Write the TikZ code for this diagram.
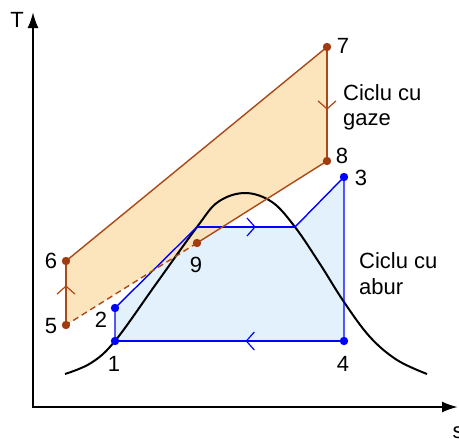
\documentclass[tikz,border=0pt]{standalone}
\usepackage{fontspec}
\setmainfont{Liberation Sans}
\usetikzlibrary{arrows.meta,decorations.markings}
\definecolor{brn}{RGB}{170,72,22}
\definecolor{brndot}{RGB}{160,60,15}
\definecolor{orfill}{RGB}{251,224,176}
\definecolor{blfill}{RGB}{226,241,251}
\tikzset{
  lbl/.style={font=\fontsize{22}{26}\selectfont, inner sep=0pt},
  gasline/.style={draw=brn, line width=1.4pt},
  stline/.style={draw=blue, line width=1.4pt},
  axis/.style={line width=2.2pt, -{Latex[length=16pt,width=11pt]}},
  midarrow/.style={postaction={decorate},decoration={markings,
     mark=at position #1 with {\arrow{Straight Barb[length=8pt,width=18pt,line width=1.2pt]}}}},
}
\begin{document}
\begin{tikzpicture}[x=1pt,y=-1pt]
\useasboundingbox (0,0) rectangle (459,439);
% points
\coordinate (p1) at (115,341);
\coordinate (p2) at (115,308);
\coordinate (a) at (197,227);
\coordinate (b) at (295,227);
\coordinate (p3) at (344,177);
\coordinate (p4) at (344,341);
\coordinate (p5) at (66,325);
\coordinate (p6) at (66,261);
\coordinate (p7) at (327,47);
\coordinate (p8) at (327,161);
\coordinate (p9) at (197,243);
\coordinate (o) at (33,407);
\coordinate (ytop) at (33,12);
\coordinate (xend) at (458,407);
% fills
\fill[blfill] (p1) -- (p2) -- (a) -- (b) -- (p3) -- (p4) -- cycle;
\fill[orfill, opacity=0.85] (p5) -- (p6) -- (p7) -- (p8) -- (p9) -- cycle;
% dome
\draw[line width=2pt, smooth, tension=0.6] plot coordinates {(65,374) (91,363) (115,341) (156,284) (197,227) (218,202) (245,193) (272,202) (295,227) (320,264) (344,302) (370,337) (397,360) (427,374)};
% steam cycle
\draw[stline] (p1) -- (p2) -- (a);
\draw[stline, midarrow=0.6] (a) -- (b);
\draw[stline] (b) -- (p3) -- (p4);
\draw[stline, midarrow=0.43] (p4) -- (p1);
% gas cycle
\draw[gasline, midarrow=0.62] (p5) -- (p6);
\draw[gasline] (p6) -- (p7);
\draw[gasline, midarrow=0.55] (p7) -- (p8);
\draw[gasline] (p8) -- (p9);
\draw[gasline, dashed, dash pattern=on 6pt off 4pt] (p9) -- (p5);
% dots
\foreach \p in {p5,p6,p7,p8,p9} \fill[brndot] (\p) circle (4.2pt);
\foreach \p in {p1,p2,p3,p4} \fill[blue] (\p) circle (4.2pt);
% axes
\draw[axis] (o) -- (ytop);
\draw[axis] ([xshift=-1.1pt]o) -- (xend);
% labels
\node[lbl] (lT) at (17,20) {T};
\node[lbl] (ls) at (458,433) {s};
\node[lbl] (l7) at (343,46) {7};
\node[lbl] (l8) at (342,156) {8};
\node[lbl] (l3) at (361,178) {3};
\node[lbl] (l6) at (51,261) {6};
\node[lbl] (l5) at (51,326) {5};
\node[lbl] (l2) at (101,320) {2};
\node[lbl] (l1) at (114,364) {1};
\node[lbl] (l9) at (196,265) {9};
\node[lbl] (l4) at (343,364) {4};
\node[lbl, anchor=base west] (g1) at (343,100) {Ciclu cu};
\node[lbl, anchor=base west] (g2) at (343,125) {gaze};
\node[lbl, anchor=base west] (s1) at (359,268) {Ciclu cu};
\node[lbl, anchor=base west] (s2) at (359,294) {abur};
\end{tikzpicture}
\end{document}
